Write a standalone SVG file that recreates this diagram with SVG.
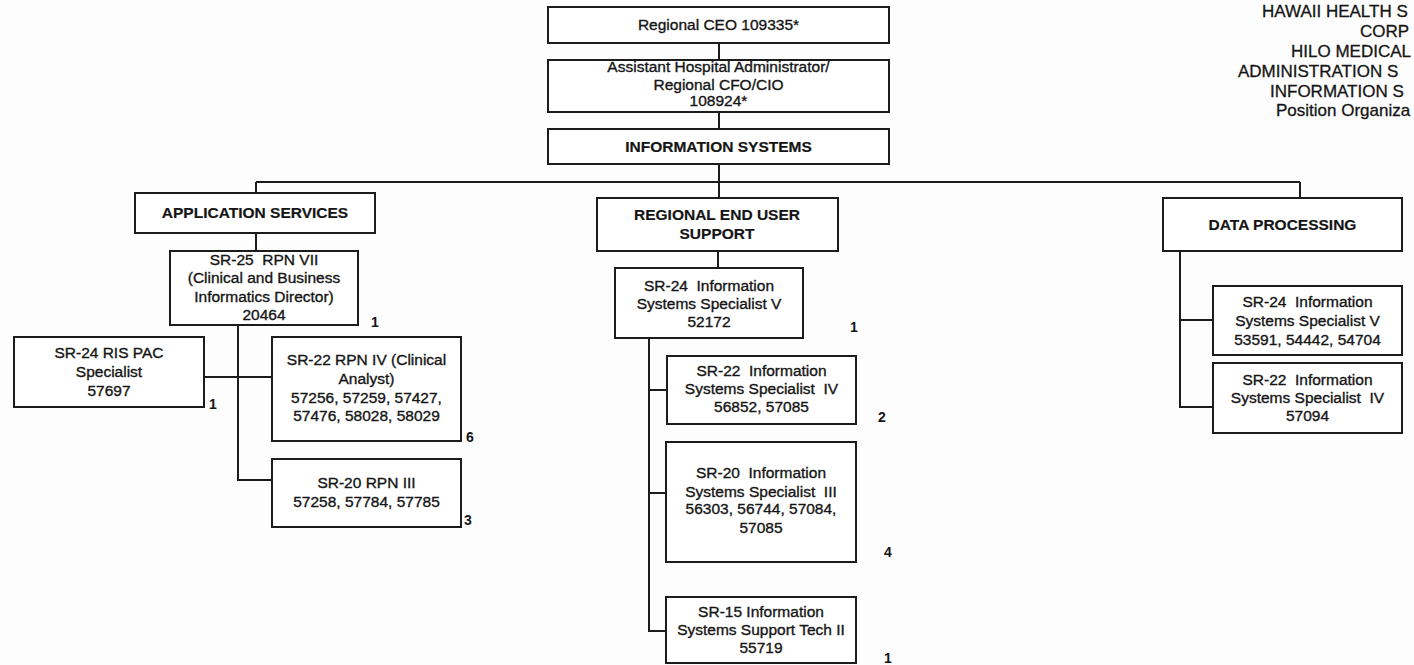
<svg xmlns="http://www.w3.org/2000/svg" width="1414" height="665" viewBox="0 0 1414 665">
<style>
.box{fill:#fff;stroke:#1c1c1c;stroke-width:2}
.conn{fill:none;stroke:#1c1c1c;stroke-width:2}
.t{font-family:"Liberation Sans",Arial,sans-serif;font-size:15.5px;fill:#151515;stroke:#151515;stroke-width:0.35px;text-anchor:middle;white-space:pre}
.b{font-weight:bold;stroke-width:0.2px}
.n{font-family:"Liberation Sans",Arial,sans-serif;font-size:14px;font-weight:bold;fill:#151515;text-anchor:middle}
.h{font-family:"Liberation Sans",Arial,sans-serif;font-size:17px;fill:#151515;stroke:#151515;stroke-width:0.3px}
</style>
<rect width="1414" height="665" fill="#fdfdfd"/>
<g id="title">
<text class="h" x="1262" y="17">HAWAII HEALTH S</text>
<text class="h" x="1360" y="37">CORP</text>
<text class="h" x="1291" y="57">HILO MEDICAL</text>
<text class="h" x="1238" y="77">ADMINISTRATION S</text>
<text class="h" x="1270" y="97">INFORMATION S</text>
<text class="h" x="1276" y="116">Position Organiza</text>
</g>
<g id="connectors">
<path class="conn" d="M719 43V60M719 112V129M719 164V198M256 182H1300M256 182V193M1300 182V198"/>
<path class="conn" d="M256 233V251M238 325V480H272M204 377H272"/>
<path class="conn" d="M718 251V268M649 338V631H666M649 390H667M649 493H666"/>
<path class="conn" d="M1180 251V407H1213M1180 320H1213"/>
</g>
<g id="ceo">
<rect class="box" x="548" y="7" width="341" height="36"/>
<text class="t" x="718.5" y="30">Regional CEO 109335*</text>
</g>
<g id="aha">
<rect class="box" x="548" y="60" width="341" height="52"/>
<text class="t" x="718.5" y="72">Assistant Hospital Administrator/</text>
<text class="t" x="718.5" y="90">Regional CFO/CIO</text>
<text class="t" x="718.5" y="106">108924*</text>
</g>
<g id="infosys">
<rect class="box" x="548" y="129" width="341" height="35"/>
<text class="t b" x="718.5" y="152">INFORMATION SYSTEMS</text>
</g>
<g id="app">
<rect class="box" x="135" y="193" width="240" height="40"/>
<text class="t b" x="255" y="218">APPLICATION SERVICES</text>
</g>
<g id="sr25">
<rect class="box" x="170" y="251" width="188" height="74"/>
<text class="t" x="264" y="265">SR-25  RPN VII</text>
<text class="t" x="264" y="283">(Clinical and Business</text>
<text class="t" x="264" y="302">Informatics Director)</text>
<text class="t" x="264" y="320">20464</text>
<text class="n" x="375" y="327">1</text>
</g>
<g id="rispac">
<rect class="box" x="14" y="337" width="190" height="70"/>
<text class="t" x="109" y="358">SR-24 RIS PAC</text>
<text class="t" x="109" y="377">Specialist</text>
<text class="t" x="109" y="396">57697</text>
<text class="n" x="213" y="409">1</text>
</g>
<g id="rpn4">
<rect class="box" x="272" y="337" width="189" height="104"/>
<text class="t" x="366.5" y="365">SR-22 RPN IV (Clinical</text>
<text class="t" x="366.5" y="384">Analyst)</text>
<text class="t" x="366.5" y="403">57256, 57259, 57427,</text>
<text class="t" x="366.5" y="421">57476, 58028, 58029</text>
<text class="n" x="470" y="442">6</text>
</g>
<g id="rpn3">
<rect class="box" x="272" y="459" width="189" height="68"/>
<text class="t" x="366.5" y="488">SR-20 RPN III</text>
<text class="t" x="366.5" y="507">57258, 57784, 57785</text>
<text class="n" x="468" y="525">3</text>
</g>
<g id="reg">
<rect class="box" x="597" y="198" width="241" height="53"/>
<text class="t b" x="717" y="220">REGIONAL END USER</text>
<text class="t b" x="717" y="239">SUPPORT</text>
</g>
<g id="isv">
<rect class="box" x="615" y="268" width="188" height="70"/>
<text class="t" x="709" y="291">SR-24  Information</text>
<text class="t" x="709" y="309">Systems Specialist V</text>
<text class="t" x="709" y="327">52172</text>
<text class="n" x="854" y="332">1</text>
</g>
<g id="is4">
<rect class="box" x="667" y="356" width="189" height="68"/>
<text class="t" x="761.5" y="376">SR-22  Information</text>
<text class="t" x="761.5" y="394">Systems Specialist  IV</text>
<text class="t" x="761.5" y="412">56852, 57085</text>
<text class="n" x="882" y="422">2</text>
</g>
<g id="is3">
<rect class="box" x="666" y="442" width="190" height="120"/>
<text class="t" x="761" y="478">SR-20  Information</text>
<text class="t" x="761" y="497">Systems Specialist  III</text>
<text class="t" x="761" y="514">56303, 56744, 57084,</text>
<text class="t" x="761" y="533">57085</text>
<text class="n" x="888" y="557">4</text>
</g>
<g id="sr15">
<rect class="box" x="666" y="597" width="190" height="66"/>
<text class="t" x="761" y="617">SR-15 Information</text>
<text class="t" x="761" y="635">Systems Support Tech II</text>
<text class="t" x="761" y="653">55719</text>
<text class="n" x="888" y="663">1</text>
</g>
<g id="dp">
<rect class="box" x="1163" y="198" width="239" height="53"/>
<text class="t b" x="1282.5" y="230">DATA PROCESSING</text>
</g>
<g id="dp24">
<rect class="box" x="1213" y="286" width="189" height="69"/>
<text class="t" x="1307.5" y="307">SR-24  Information</text>
<text class="t" x="1307.5" y="326">Systems Specialist V</text>
<text class="t" x="1307.5" y="345">53591, 54442, 54704</text>
</g>
<g id="dp22">
<rect class="box" x="1213" y="363" width="189" height="70"/>
<text class="t" x="1307.5" y="385">SR-22  Information</text>
<text class="t" x="1307.5" y="403">Systems Specialist  IV</text>
<text class="t" x="1307.5" y="421">57094</text>
</g>
</svg>
